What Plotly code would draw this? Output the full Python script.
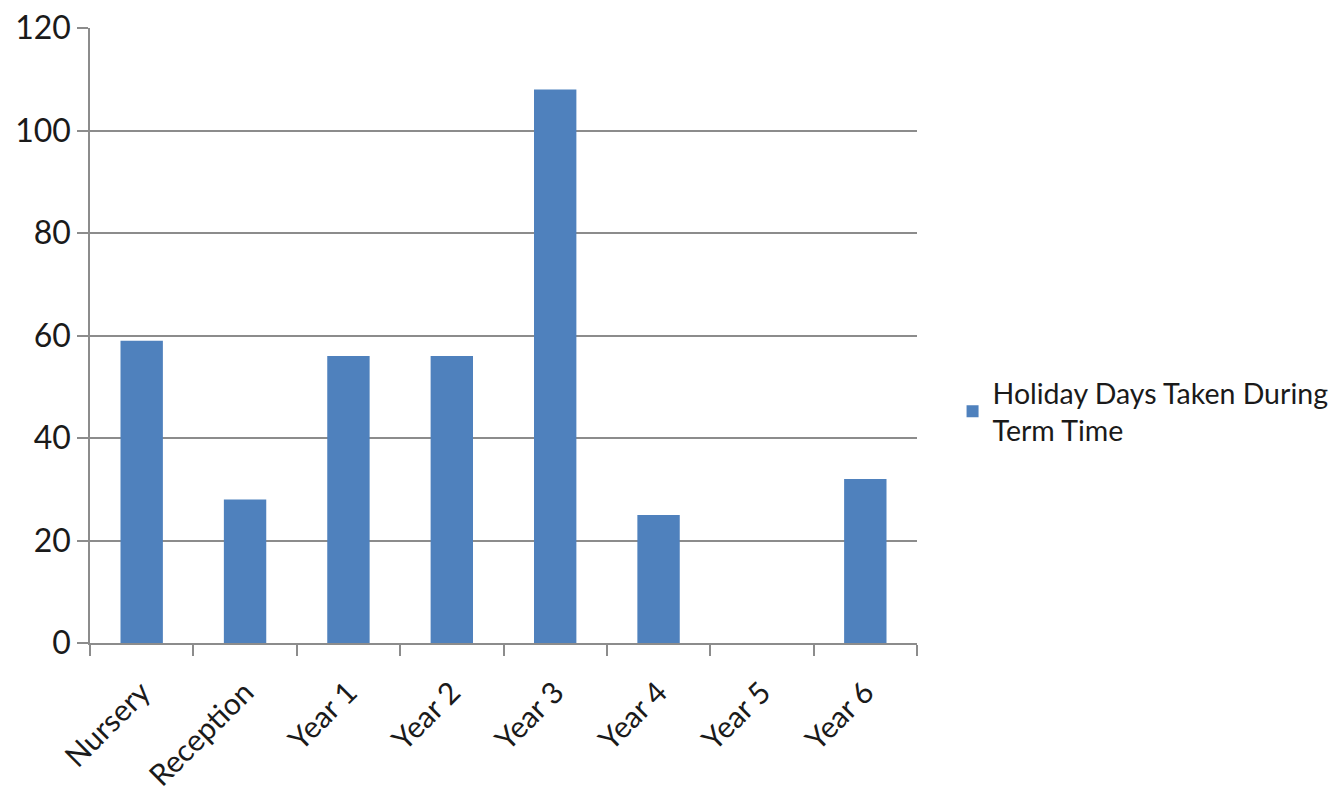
import plotly.graph_objects as go

categories = ["Nursery", "Reception", "Year 1", "Year 2", "Year 3", "Year 4", "Year 5", "Year 6"]
values = [59, 28, 56, 56, 108, 25, 0, 32]
series_name = "Holiday Days Taken During<br>Term Time"
y_ticks = [0, 20, 40, 60, 80, 100, 120]

FONT = "Lato, Open Sans, sans-serif"
GRID = "#8c8c8c"

fig = go.Figure()
fig.add_trace(go.Bar(
    x=categories, y=values, name=series_name,
    marker=dict(color="#4f81bd", line=dict(width=0)),
    width=0.41, showlegend=True,
))

fig.update_layout(
    width=1344, height=800,
    margin=dict(l=82, r=435, t=20, b=165, autoexpand=False),
    paper_bgcolor="white", plot_bgcolor="white",
    font=dict(family=FONT, color="#1a1a1a", size=32),
    showlegend=True,
    legend=dict(x=1.043, y=0.376, xanchor="left", yanchor="middle",
                font=dict(size=28.5, family=FONT), itemwidth=30,
                tracegroupgap=0, bgcolor="rgba(0,0,0,0)"),
)
fig.update_xaxes(
    type="category", tickangle=-45, tickfont=dict(size=30),
    showline=True, linecolor=GRID, linewidth=1.5,
    ticks="outside", tickson="boundaries", ticklen=11, tickcolor=GRID, tickwidth=1.5,
    showgrid=False, mirror=False, ticklabelstandoff=18,
)
fig.update_yaxes(
    range=[0, 120], tickvals=y_ticks, tickfont=dict(size=32),
    showline=True, linecolor=GRID, linewidth=1.5,
    ticks="outside", ticklen=11, tickcolor=GRID, tickwidth=1.5,
    showgrid=True, gridcolor=GRID, gridwidth=1.5, zeroline=False,
    ticklabeloverflow="allow",
)

fig.write_html("out.html")
